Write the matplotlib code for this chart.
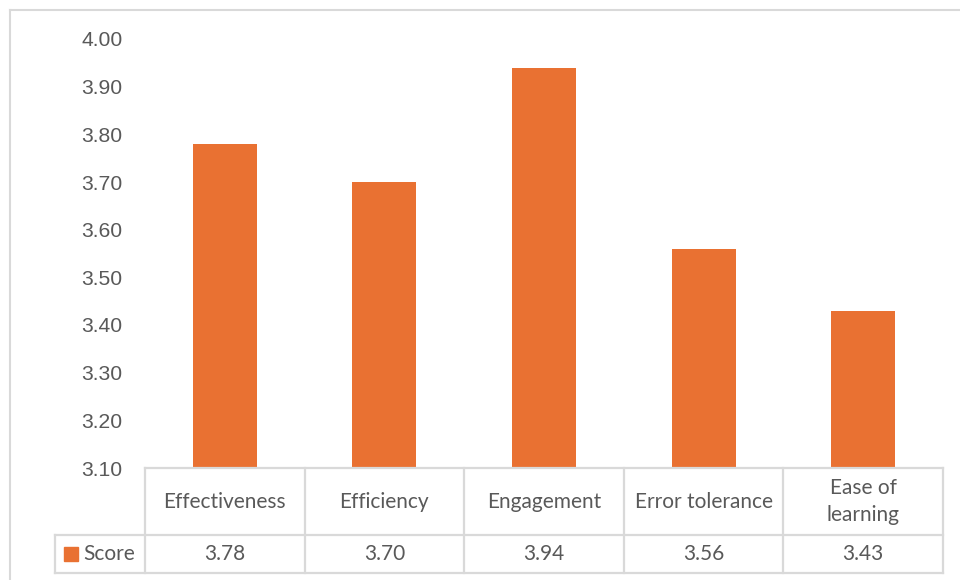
import matplotlib.pyplot as plt
from matplotlib.lines import Line2D
from matplotlib.patches import Rectangle

# data
categories = ["Effectiveness", "Efficiency", "Engagement", "Error tolerance", "Ease of\nlearning"]
scores = [3.78, 3.70, 3.94, 3.56, 3.43]
series_name = "Score"
y_ticks = [3.10, 3.20, 3.30, 3.40, 3.50, 3.60, 3.70, 3.80, 3.90, 4.00]

bar_color = "#E97132"
grid_color = "#D9D9D9"
text_color = "#595959"

W, H = 960, 580
fig = plt.figure(figsize=(W / 100, H / 100), dpi=100)

# plot area in pixels
left_px, right_px = 145, 943
top_px, base_px = 39, 468
ax = fig.add_axes([left_px / W, 1 - base_px / H, (right_px - left_px) / W, (base_px - top_px) / H])

x = list(range(len(categories)))
ax.bar(x, scores, width=0.4, color=bar_color, zorder=2)
ax.set_xlim(-0.5, len(categories) - 0.5)
ax.set_ylim(3.10, 4.00)
ax.set_yticks(y_ticks)
ax.set_yticklabels([f"{v:.2f}" for v in y_ticks], fontsize=15.2,
                   color=text_color, family="Liberation Sans")
ax.tick_params(axis="y", length=0, pad=16)
ax.set_xticks([])
for s in ax.spines.values():
    s.set_visible(False)

# data table under the plot (axes coords in y, data coords in x)
trans = ax.get_xaxis_transform()
plot_h = base_px - top_px
row1 = -(535 - base_px) / plot_h
row2 = -(573 - base_px) / plot_h
col_w = (right_px - left_px) / len(categories)
legend_left = -0.5 - (left_px - 55) / col_w
lw = 1.6

def hline(x0, x1, y):
    ax.add_line(Line2D([x0, x1], [y, y], transform=trans, color=grid_color, lw=lw, clip_on=False))

def vline(xx, y0, y1):
    ax.add_line(Line2D([xx, xx], [y0, y1], transform=trans, color=grid_color, lw=lw, clip_on=False))

hline(-0.5, len(categories) - 0.5, 0)
hline(legend_left, len(categories) - 0.5, row1)
hline(legend_left, len(categories) - 0.5, row2)
for i in range(len(categories) + 1):
    vline(i - 0.5, 0, row2)
vline(legend_left, row1, row2)

table_font = dict(fontsize=15, color=text_color, family="Lato", ha="center", va="center")
for i, (cat, val) in enumerate(zip(categories, scores)):
    ax.text(i, row1 / 2, cat, transform=trans, linespacing=1.4, **table_font)
    ax.text(i, (row1 + row2) / 2, f"{val:.2f}", transform=trans, **table_font)

# legend key in the series cell
fig.patches.append(Rectangle((64 / W, 1 - 561 / H), 14 / W, 14 / H,
                             transform=fig.transFigure, color=bar_color))
fig.text(83 / W, 1 - 554 / H, series_name, fontsize=15, color=text_color,
         family="Lato", ha="left", va="center")

# outer chart border
fig.add_artist(Line2D([10 / W, 1], [1 - 10 / H, 1 - 10 / H], transform=fig.transFigure,
                      color=grid_color, lw=1.5))
fig.add_artist(Line2D([10 / W, 10 / W], [0, 1 - 10 / H], transform=fig.transFigure,
                      color=grid_color, lw=1.5))

fig.savefig("out.png", dpi=100)
